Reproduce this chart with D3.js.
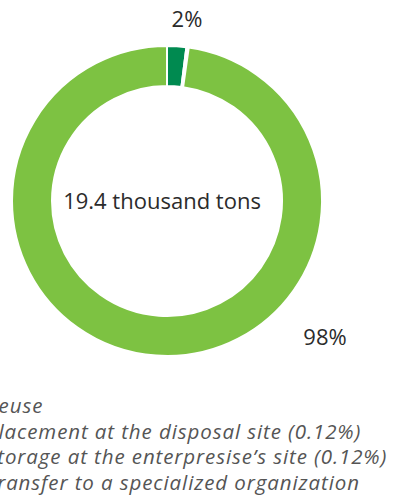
<!DOCTYPE html>
<html>
<head>
<meta charset="utf-8">
<script src="https://cdn.jsdelivr.net/npm/d3@7"></script>
<style>
  html, body { margin: 0; padding: 0; background: #fff; overflow: hidden; }
  svg { display: block; }
</style>
</head>
<body>
<svg id="chart" width="394" height="499"></svg>
<script>
const categories = ["Reuse", "Placement at the disposal site (0.12%)", "Storage at the enterpresise\u2019s site (0.12%)", "Transfer to a specialized organization"];
const values = [2, 0.12, 0.12, 97.76];
const colors = ["#008a50", "#b8d98f", "#4f9a3a", "#7dc242"];
const sliceLabels = ["2%", "", "", "98%"];
const totalLabel = "19.4 thousand tons";

const svg = d3.select("#chart");
const cx = 167, cy = 201, outerR = 155, innerR = 115;

const pie = d3.pie().sort(null).value(d => d)(values);
const arc = d3.arc().innerRadius(innerR).outerRadius(outerR);

const g = svg.append("g").attr("transform", `translate(${cx},${cy})`);
g.selectAll("path").data(pie).join("path")
  .attr("d", arc)
  .attr("fill", (d, i) => colors[i])
  .attr("stroke", "#fff")
  .attr("stroke-width", 2);

g.append("text")
  .attr("x", -5).attr("y", 8)
  .attr("text-anchor", "middle")
  .attr("font-family", "'Open Sans', sans-serif")
  .attr("font-size", 22)
  .attr("fill", "#2b2b2b")
  .text(totalLabel);

// slice percent labels
const labelPos = [[20, -174], null, null, [158, 144]];
pie.forEach((d, i) => {
  if (!sliceLabels[i]) return;
  g.append("text")
    .attr("x", labelPos[i][0]).attr("y", labelPos[i][1])
    .attr("text-anchor", "middle")
    .attr("font-family", "'Open Sans', sans-serif")
    .attr("font-size", 22)
    .attr("fill", "#2b2b2b")
    .text(sliceLabels[i]);
});

// legend (shifted partly off the left edge as in the reference)
const legend = svg.append("g").attr("transform", "translate(-14,0)");
categories.forEach((c, i) => {
  const y = 413 + i * 25.5;
  legend.append("circle").attr("cx", -16).attr("cy", y - 6).attr("r", 6).attr("fill", colors[i]);
  legend.append("text")
    .attr("x", 0).attr("y", y)
    .attr("font-family", "'Open Sans', sans-serif")
    .attr("font-style", "italic")
    .attr("font-size", 20.5)
    .attr("letter-spacing", 0.9)
    .attr("fill", "#555")
    .text(c);
});
</script>
</body>
</html>
